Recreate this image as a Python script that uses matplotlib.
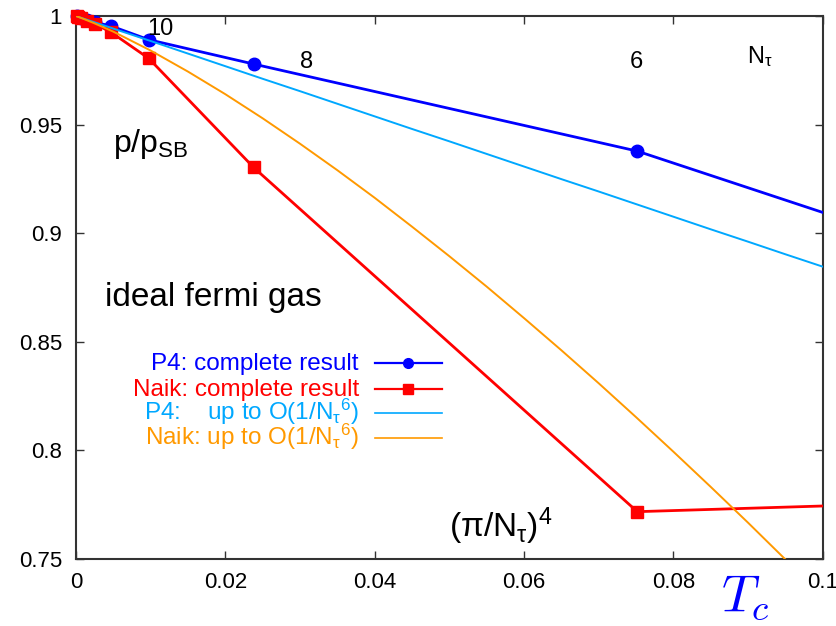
import numpy as np
import matplotlib
matplotlib.use("Agg")
import matplotlib.pyplot as plt
from matplotlib.lines import Line2D
from matplotlib.ticker import FuncFormatter

plt.rcParams['font.family'] = ['Liberation Sans', 'DejaVu Sans']
plt.rcParams['mathtext.fontset'] = 'custom'
plt.rcParams['mathtext.rm'] = 'Liberation Sans'
plt.rcParams['mathtext.it'] = 'Liberation Sans:italic'
plt.rcParams['mathtext.sf'] = 'Liberation Sans'

# temporal lattice extents and the ideal-gas pressure ratio p/p_SB
n_tau = np.array([4, 6, 8, 10, 12, 14, 16, 20, 24, 32])
p4_complete = [0.5907, 0.9378, 0.9779, 0.9891, 0.9954, 0.9971, 0.9983, 0.9993, 0.9997, 0.9999]
naik_complete = [0.8039, 0.7718, 0.9303, 0.9805, 0.9925, 0.9964, 0.9978, 0.9991, 0.9996, 0.9999]

# truncated expansions up to O(1/N_tau^6), sampled in (pi/N_tau)^4
x_series = [0.0, 0.001, 0.0025, 0.005, 0.01, 0.015, 0.02, 0.025, 0.03, 0.035,
            0.04, 0.045, 0.05, 0.055, 0.06, 0.065, 0.07, 0.075, 0.08, 0.085,
            0.09, 0.095, 0.1]
p4_series = [1.0, 0.9988, 0.9971, 0.9942, 0.9885, 0.9827, 0.9769, 0.9711, 0.9654, 0.9596,
             0.9538, 0.9480, 0.9423, 0.9365, 0.9307, 0.9249, 0.9192, 0.9134, 0.9076, 0.9018,
             0.8961, 0.8903, 0.8846]
naik_series = [1.0, 0.9987, 0.9966, 0.9928, 0.9841, 0.9744, 0.9640, 0.9529, 0.9412, 0.9290,
               0.9163, 0.9030, 0.8894, 0.8754, 0.8609, 0.8461, 0.8309, 0.8153, 0.7994, 0.7832,
               0.7667, 0.7498, 0.7326]

legend_labels = ['P4: complete result', 'Naik: complete result',
                 r'P4:    up to O(1/N$_\mathregular{τ}{}^\mathregular{6}$)',
                 r'Naik: up to O(1/N$_\mathregular{τ}{}^\mathregular{6}$)']

x_tau = (np.pi / n_tau) ** 4

W, H = 837, 626
fig = plt.figure(figsize=(W / 100, H / 100), dpi=100)
ax = fig.add_axes([0.0908, 0.107, 0.983 - 0.0908, 0.9744 - 0.107])

blue, red, cyan, orange = '#0000ff', '#ff0000', '#00a8ff', '#ff9900'

ax.plot(x_tau, p4_complete, color=blue, lw=2.0, zorder=3)
inside = x_tau <= 0.1
ax.plot(x_tau[inside], np.array(p4_complete)[inside], ls='none', marker='o',
        ms=9, color=blue, clip_on=False, zorder=3)
ax.plot(x_tau, naik_complete, color=red, lw=2.0, zorder=4)
ax.plot(x_tau[inside], np.array(naik_complete)[inside], ls='none', marker='s',
        ms=8.5, color=red, clip_on=False, zorder=4)
ax.plot(x_series, p4_series, color=cyan, lw=1.4, zorder=5)
ax.plot(x_series, naik_series, color=orange, lw=1.4, zorder=6)

# key: right-aligned labels followed by a line sample (figure pixel layout)
key_styles = [dict(color=blue, lw=1.6, marker='o', ms=7),
              dict(color=red, lw=1.6, marker='s', ms=7),
              dict(color=cyan, lw=1.2),
              dict(color=orange, lw=1.2)]
row_y = [363, 389, 413, 438]
for label, style, yp in zip(legend_labels, key_styles, row_y):
    fig.text(359 / W, 1 - (yp + 7) / H, label, fontsize=17.5, color=style['color'],
             ha='right', va='baseline')
    fy = 1 - yp / H
    fig.add_artist(Line2D([375 / W, 442 / W], [fy, fy], color=style['color'],
                          lw=style['lw']))
    if 'marker' in style:
        fig.add_artist(Line2D([408.5 / W], [fy], color=style['color'], ls='none',
                              marker=style['marker'], ms=style['ms']))

ax.set_xlim(0, 0.1)
ax.set_ylim(0.75, 1.0)
ax.set_xticks([0, 0.02, 0.04, 0.06, 0.08, 0.1])
ax.set_yticks([0.75, 0.8, 0.85, 0.9, 0.95, 1.0])
ax.xaxis.set_major_formatter(FuncFormatter(lambda v, p: f'{v:g}'))
ax.yaxis.set_major_formatter(FuncFormatter(lambda v, p: f'{v:g}'))
ax.tick_params(direction='in', top=True, right=True, length=6, width=1,
               labelsize=16, color='#333333')
ax.tick_params(axis='y', pad=10)
ax.tick_params(axis='x', pad=9)
for s in ax.spines.values():
    s.set_color('#333333')
    s.set_linewidth(1.5)

small, big = 17, 24
ax.text(0.01125, 0.9912, '10', fontsize=small, ha='center', va='baseline')
ax.text(0.0309, 0.9761, '8', fontsize=small, ha='center', va='baseline')
ax.text(0.0750, 0.9761, '6', fontsize=small, ha='center', va='baseline')
ax.text(0.0898, 0.9784, r'N$_\mathregular{τ}$', fontsize=small, ha='left', va='baseline')
ax.text(0.0050, 0.9372, r'p/p$_{\mathregular{SB}}$', fontsize=23, va='baseline')
ax.text(0.0039, 0.8665, 'ideal fermi gas', fontsize=big, va='baseline')
ax.text(0.0500, 0.7601, r'(π/N$_\mathregular{τ}$)$^\mathregular{4}$', fontsize=big,
        va='baseline')
fig.text(745 / W, 1 - 598 / H, r'$T_c$', fontsize=38, color=blue,
         ha='center', va='center', math_fontfamily='cm')

fig.savefig('out.png', dpi=100)
